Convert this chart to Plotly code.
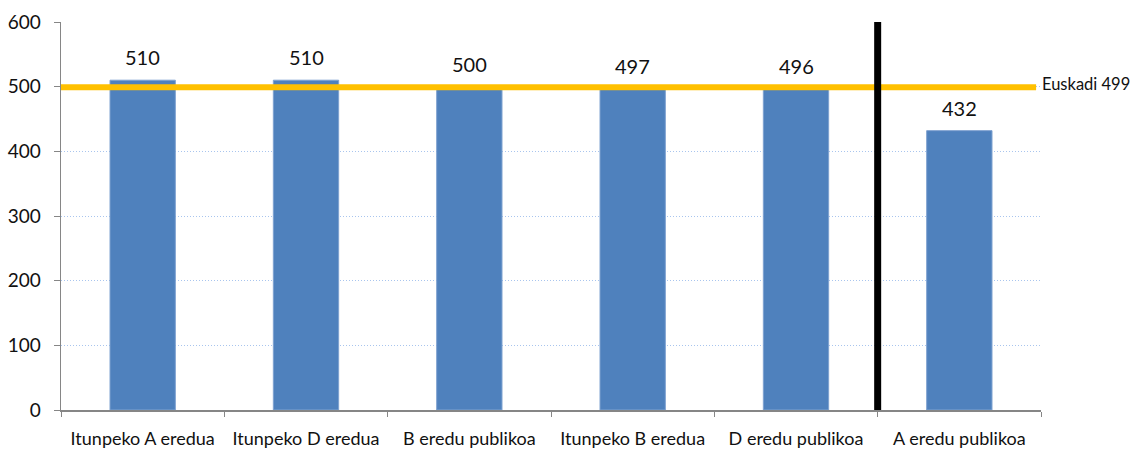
import plotly.graph_objects as go

categories = ["Itunpeko A eredua", "Itunpeko D eredua", "B eredu publikoa",
              "Itunpeko B eredua", "D eredu publikoa", "A eredu publikoa"]
values = [510, 510, 500, 497, 496, 432]
euskadi_value = 499
euskadi_label = "Euskadi 499"
y_ticks = [0, 100, 200, 300, 400, 500, 600]

FONT = "Lato, 'Open Sans', sans-serif"

fig = go.Figure()
fig.add_trace(go.Bar(
    x=categories, y=values,
    marker=dict(color="#4F81BD", line=dict(color="#7FA2D0", width=1)),
    width=0.4,
    cliponaxis=False,
))

# Value labels above bars
for c, v in zip(categories, values):
    fig.add_annotation(x=c, y=v, xref="x", yref="y", text=str(v),
                       showarrow=False, yanchor="bottom", yshift=9,
                       font=dict(size=20, color="#111111", family=FONT))

# Euskadi reference line
fig.add_shape(type="line", xref="paper", yref="y", x0=0, x1=0.995,
              y0=euskadi_value, y1=euskadi_value,
              line=dict(color="#FFC000", width=6))
fig.add_annotation(xref="paper", yref="y", x=1.0, y=euskadi_value,
                   text=euskadi_label, showarrow=False, xanchor="left",
                   xshift=-1, yshift=3,
                   font=dict(size=16.5, color="#111111", family=FONT))
# Black separator
fig.add_shape(type="line", xref="x", yref="y", x0=4.5, x1=4.5, y0=0, y1=600,
              line=dict(color="black", width=7))

fig.update_layout(
    width=1136, height=452,
    margin=dict(l=61, r=95, t=22, b=42),
    plot_bgcolor="white", paper_bgcolor="white",
    showlegend=False,
    font=dict(family=FONT, color="#111111"),
)
fig.update_xaxes(
    range=[-0.5, 5.5], tickson="boundaries", ticks="outside", ticklen=5,
    tickcolor="#868686", showline=True, linecolor="#868686", linewidth=1.5,
    showgrid=False, tickfont=dict(size=18, family=FONT, color="#111111"),
    ticklabelstandoff=12, automargin=False,
)
fig.update_yaxes(
    range=[0, 600], tickvals=y_ticks, ticks="outside", ticklen=6,
    tickcolor="#868686", showline=True, linecolor="#868686", linewidth=1.5,
    showgrid=True, gridcolor="#A9C5EE", griddash="1px,2px", gridwidth=1,
    zeroline=False, tickfont=dict(size=19, family=FONT, color="#111111"),
    ticklabelstandoff=9, automargin=False,
)

fig.write_html(
    "out.html",
    config={"displayModeBar": False, "staticPlot": True},
    post_script="document.body.style.margin='0';document.body.style.overflow='hidden';",
)
